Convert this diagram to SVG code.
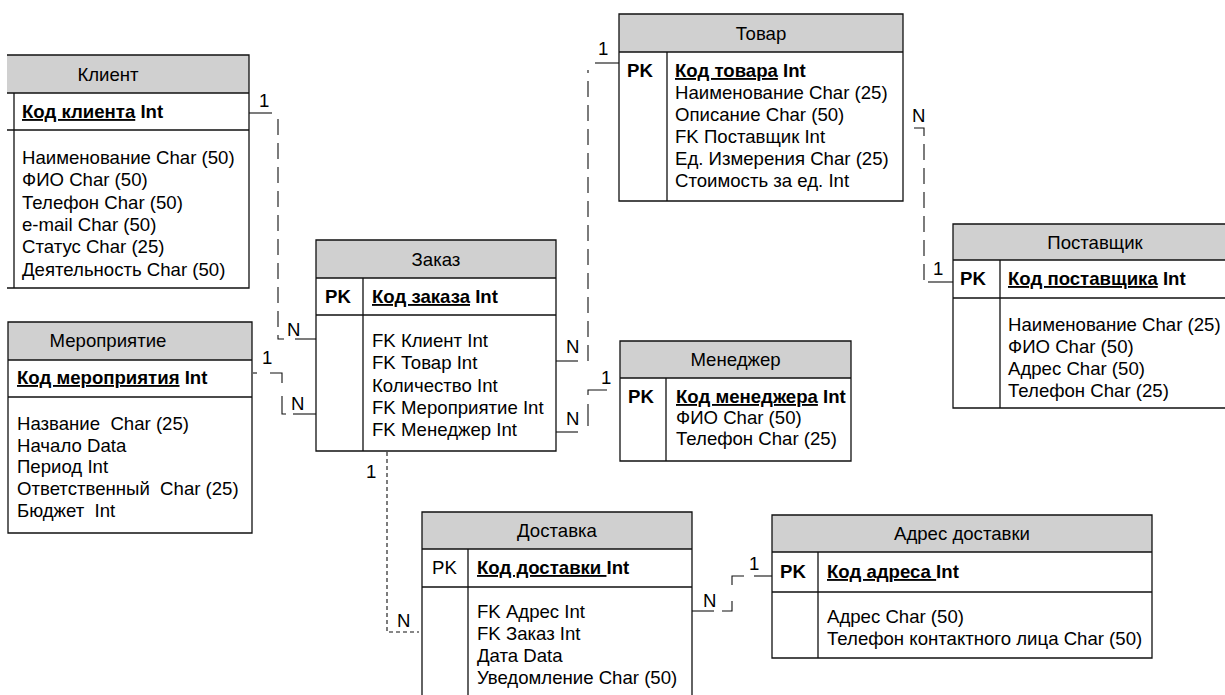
<svg xmlns="http://www.w3.org/2000/svg" width="1225" height="695" viewBox="0 0 1225 695">
<style>
text { font-family: "Liberation Sans", Arial, sans-serif; font-size: 18.6px; fill: #000; }
.b { font-weight: bold; }
.u { text-decoration: underline; }
.t { text-anchor: middle; }
.pre { white-space: pre; }
.hdr { fill: #d0d0d0; stroke: none; }
.ln { stroke: #111; stroke-width: 1.3; fill: none; }
.c { stroke: #111; stroke-width: 1.1; fill: none; }
.d { stroke-dasharray: 16 8; }
.s { stroke-dasharray: 4 3; }
</style>
<rect x="0" y="0" width="1225" height="695" fill="#fff"/>

<g id="klient">
<rect class="hdr" x="7" y="55" width="242" height="38"/>
<path class="ln" d="M7 55H249V288H7 M7 93H249 M7 130H249 M14 93V288"/>
<text class="t" x="108" y="81">Клиент</text>
<text class="b" x="22" y="118"><tspan class="u">Код клиента</tspan> Int</text>
<text x="22" y="164">Наименование Char (50)</text>
<text x="22" y="186.3">ФИО Char (50)</text>
<text x="22" y="208.6">Телефон Char (50)</text>
<text x="22" y="230.9">e-mail Char (50)</text>
<text x="22" y="253.2">Статус Char (25)</text>
<text x="22" y="275.5">Деятельность Char (50)</text>
</g>

<g id="meropriyatie">
<rect class="hdr" x="8" y="322" width="244" height="38"/>
<path class="ln" d="M8 322H252V533H8Z M8 360H252 M8 397H252"/>
<text class="t" x="108" y="347">Мероприятие</text>
<text class="b" x="17" y="384"><tspan class="u">Код мероприятия</tspan> Int</text>
<text class="pre" x="17" y="430">Название  Char (25)</text>
<text x="17" y="451.7">Начало Data</text>
<text x="17" y="473.4">Период Int</text>
<text class="pre" x="17" y="495.1">Ответственный  Char (25)</text>
<text class="pre" x="17" y="516.8">Бюджет  Int</text>
</g>

<g id="zakaz">
<rect class="hdr" x="316" y="240" width="240" height="38"/>
<path class="ln" d="M316 240H556V451H316Z M316 278H556 M316 315H556 M363 278V451"/>
<text class="t" x="436" y="265.5">Заказ</text>
<text class="b" x="325" y="303">PK</text>
<text class="b" x="372" y="303"><tspan class="u">Код заказа</tspan> Int</text>
<text x="372" y="347">FK Клиент Int</text>
<text x="372" y="369.3">FK Товар Int</text>
<text x="372" y="391.6">Количество Int</text>
<text x="372" y="413.9">FK Мероприятие Int</text>
<text x="372" y="436.2">FK Менеджер Int</text>
</g>

<g id="tovar">
<rect class="hdr" x="619" y="14" width="284" height="38"/>
<path class="ln" d="M619 14H903V201H619Z M619 52H903 M667 52V201"/>
<text class="t" x="761" y="39.5">Товар</text>
<text class="b" x="627" y="77">PK</text>
<text class="b" x="675" y="77"><tspan class="u">Код товара</tspan> Int</text>
<text x="675" y="99">Наименование Char (25)</text>
<text x="675" y="121">Описание Char (50)</text>
<text x="675" y="143">FK Поставщик Int</text>
<text x="675" y="165">Ед. Измерения Char (25)</text>
<text x="675" y="187">Стоимость за ед. Int</text>
</g>

<g id="postavshchik">
<rect class="hdr" x="953" y="224" width="280" height="36"/>
<path class="ln" d="M1235 224H953V408H1235 M953 260H1235 M953 298H1235 M1000 260V408"/>
<text class="t" x="1095" y="248.5">Поставщик</text>
<text class="b" x="960" y="285">PK</text>
<text class="b" x="1008" y="285"><tspan class="u">Код поставщика</tspan> Int</text>
<text x="1008" y="331">Наименование Char (25)</text>
<text x="1008" y="353">ФИО Char (50)</text>
<text x="1008" y="375">Адрес Char (50)</text>
<text x="1008" y="396.5">Телефон Char (25)</text>
</g>

<g id="menedzher">
<rect class="hdr" x="620" y="341" width="231" height="37"/>
<path class="ln" d="M620 341H851V461H620Z M620 378H851 M666 378V461"/>
<text class="t" x="735.5" y="366">Менеджер</text>
<text class="b" x="628" y="403">PK</text>
<text class="b" x="676" y="403"><tspan class="u">Код менеджера</tspan> Int</text>
<text x="676" y="424">ФИО Char (50)</text>
<text x="676" y="445">Телефон Char (25)</text>
</g>

<g id="dostavka">
<rect class="hdr" x="422" y="512" width="270" height="37"/>
<path class="ln" d="M422 700V512H692V700 M422 549H692 M422 587H692 M468 549V700"/>
<text class="t" x="557" y="537">Доставка</text>
<text x="432" y="574">PK</text>
<text class="b pre" x="477" y="574"><tspan class="u">Код доставки </tspan>Int</text>
<text x="477" y="618">FK Адрес Int</text>
<text x="477" y="640">FK Заказ Int</text>
<text x="477" y="662">Дата Data</text>
<text x="477" y="684">Уведомление Char (50)</text>
</g>

<g id="adres-dostavki">
<rect class="hdr" x="772" y="515" width="380" height="37"/>
<path class="ln" d="M772 515H1152V658H772Z M772 552H1152 M772 592H1152 M818 552V658"/>
<text class="t" x="962" y="540">Адрес доставки</text>
<text class="b" x="780" y="578">PK</text>
<text class="b pre" x="827" y="578"><tspan class="u">Код адреса </tspan>Int</text>
<text x="827" y="623">Адрес Char (50)</text>
<text x="827" y="645">Телефон контактного лица Char (50)</text>
</g>

<g id="connectors">
<path class="c" d="M249 113H272"/>
<path class="c d" d="M278 119V339H284"/>
<path class="c" d="M295 339H316"/>
<text x="259" y="107">1</text>
<text x="287" y="336">N</text>

<path class="c" d="M253 373H257"/>
<path class="c" d="M270 373H282V383"/>
<path class="c" d="M282 396V414H286"/>
<path class="c" d="M293 414H316"/>
<text x="262" y="364">1</text>
<text x="291" y="410">N</text>

<path class="c" d="M556 361H578"/>
<path class="c d" d="M588 361V70"/>
<path class="c" d="M595 63H619"/>
<text x="598" y="55">1</text>
<text x="566" y="353">N</text>

<path class="c" d="M556 432H578"/>
<path class="c" d="M588 404V426"/>
<path class="c" d="M588 395V390H607"/>
<text x="601" y="384">1</text>
<text x="566" y="425">N</text>

<path class="c" d="M914 128H924V136"/>
<path class="c d" d="M924 144V280"/>
<path class="c" d="M928 282H953"/>
<text x="912" y="122">N</text>
<text x="933" y="275">1</text>

<path class="c s" d="M387 452V632H419"/>
<text x="366" y="478">1</text>
<text x="397" y="627">N</text>

<path class="c" d="M692 611H714"/>
<path class="c" d="M722 611H732V601"/>
<path class="c" d="M732 585V576H744"/>
<path class="c" d="M754 576H772"/>
<text x="703" y="607">N</text>
<text x="749" y="570">1</text>
</g>
</svg>
